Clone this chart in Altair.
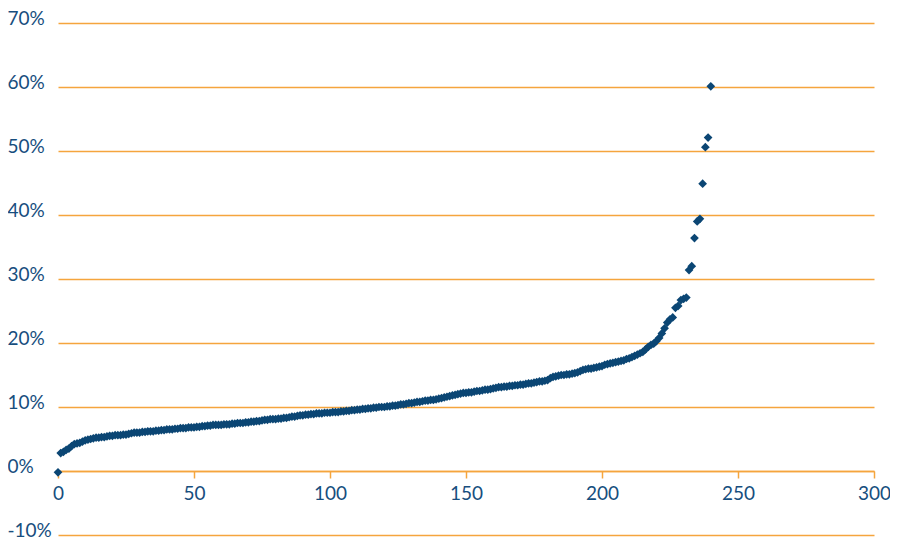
import altair as alt
import pandas as pd

# Sorted values (percent), one per index 0..240
values = [
    -0.2, 2.8, 3.0, 3.3, 3.5, 3.9, 4.2, 4.3, 4.4, 4.6,
    4.8, 4.9, 5.0, 5.1, 5.2, 5.2, 5.3, 5.3, 5.4, 5.5,
    5.5, 5.6, 5.6, 5.6, 5.7, 5.7, 5.8, 5.9, 6.0, 6.0,
    6.0, 6.1, 6.1, 6.2, 6.2, 6.2, 6.3, 6.3, 6.4, 6.4,
    6.5, 6.5, 6.5, 6.6, 6.6, 6.7, 6.7, 6.7, 6.8, 6.8,
    6.8, 6.9, 6.9, 7.0, 7.0, 7.1, 7.1, 7.2, 7.2, 7.2,
    7.2, 7.3, 7.3, 7.3, 7.4, 7.4, 7.5, 7.5, 7.5, 7.6,
    7.6, 7.7, 7.7, 7.8, 7.8, 7.9, 8.0, 8.0, 8.1, 8.1,
    8.1, 8.2, 8.2, 8.3, 8.3, 8.4, 8.5, 8.5, 8.6, 8.7,
    8.7, 8.8, 8.8, 8.9, 8.9, 9.0, 9.0, 9.0, 9.1, 9.1,
    9.1, 9.2, 9.2, 9.2, 9.3, 9.3, 9.4, 9.4, 9.5, 9.5,
    9.6, 9.6, 9.7, 9.7, 9.8, 9.8, 9.9, 9.9, 10.0, 10.0,
    10.0, 10.1, 10.1, 10.2, 10.2, 10.3, 10.4, 10.4, 10.5, 10.6,
    10.6, 10.7, 10.8, 10.8, 10.9, 11.0, 11.0, 11.1, 11.1, 11.2,
    11.3, 11.4, 11.5, 11.6, 11.7, 11.8, 11.9, 12.0, 12.1, 12.2,
    12.2, 12.3, 12.3, 12.4, 12.5, 12.5, 12.6, 12.7, 12.7, 12.8,
    12.9, 13.0, 13.1, 13.1, 13.2, 13.2, 13.3, 13.3, 13.4, 13.4,
    13.5, 13.5, 13.6, 13.7, 13.7, 13.8, 13.9, 14.0, 14.0, 14.1,
    14.2, 14.5, 14.7, 14.8, 14.9, 15.0, 15.0, 15.1, 15.1, 15.2,
    15.3, 15.4, 15.6, 15.8, 15.9, 16.0, 16.0, 16.1, 16.2, 16.3,
    16.4, 16.6, 16.7, 16.8, 16.9, 17.0, 17.1, 17.2, 17.3, 17.5,
    17.6, 17.8, 18.0, 18.2, 18.4, 18.6, 19.0, 19.4, 19.7, 19.9,
    20.3, 20.8, 21.5, 22.3, 23.2, 23.7, 24.0, 25.5, 25.8, 26.7,
    26.9, 27.1, 31.4, 32.0, 36.4, 39.0, 39.4, 44.9, 50.6, 52.1, 60.1,
]
index = list(range(len(values)))

x_ticks = [0, 50, 100, 150, 200, 250, 300]
y_ticks = [-10, 0, 10, 20, 30, 40, 50, 60, 70]

df = pd.DataFrame({"idx": index, "val": values})

ORANGE = "#F5A53D"
BLUE = "#0B4674"
LABEL = "#174E7E"
FONT = "Lato"

chart = (
    alt.Chart(df)
    .mark_point(shape="diamond", filled=True, color=BLUE, size=76, opacity=1)
    .encode(
        x=alt.X(
            "idx:Q",
            scale=alt.Scale(domain=[0, 300], nice=False, zero=False),
            axis=alt.Axis(
                values=x_ticks,
                title=None,
                grid=False,
                offset=-64,
                domainColor=ORANGE,
                domainWidth=1.5,
                tickColor=ORANGE,
                tickWidth=1.5,
                tickSize=7,
                labelFlush=False,
                labelColor=LABEL,
                labelFont=FONT,
                labelFontSize=19,
                labelPadding=6,
            ),
        ),
        y=alt.Y(
            "val:Q",
            scale=alt.Scale(domain=[-10, 70], nice=False, zero=False),
            axis=alt.Axis(
                values=y_ticks,
                title=None,
                grid=True,
                gridColor=ORANGE,
                gridWidth=1.5,
                domain=False,
                ticks=False,
                labelExpr="datum.value + '%'",
                labelAlign="left",
                labelBaseline="alphabetic",
                labelOffset=1,
                labelPadding=51,
                labelFlush=False,
                labelColor=LABEL,
                labelFont=FONT,
                labelFontSize=19,
            ),
        ),
    )
    .properties(
        width=816,
        height=512,
        autosize=alt.AutoSizeParams(type="none"),
        padding={"left": 50, "top": 15, "right": 16, "bottom": 5},
        view=alt.ViewBackground(stroke="transparent", strokeWidth=0),
    )
    .configure_view(strokeWidth=0, stroke="transparent")
    .configure_axisX(grid=False)
    .configure(background="white")
)

chart.save("out.html", embed_options={"renderer": "svg", "actions": False})
